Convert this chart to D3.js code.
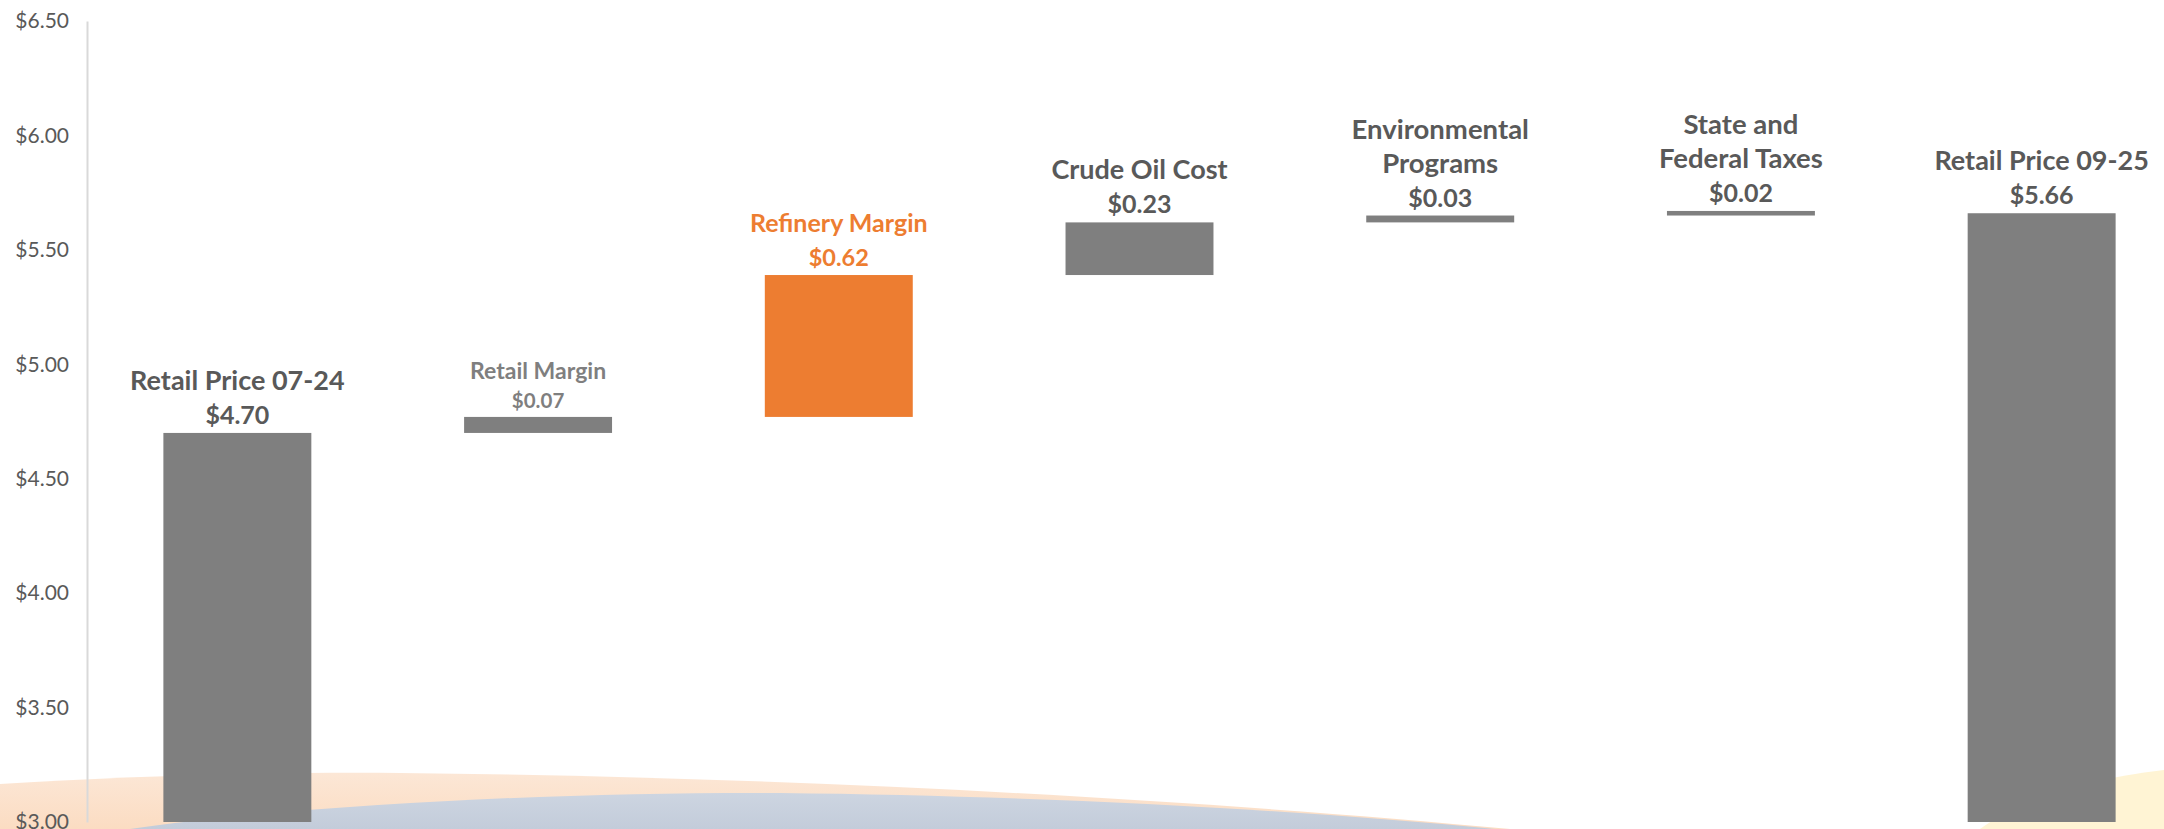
<!DOCTYPE html>
<html>
<head>
<meta charset="utf-8">
<script src="https://cdn.jsdelivr.net/npm/d3@7"></script>
<style>
  html, body { margin: 0; padding: 0; background: #ffffff; }
  svg { display: block; }
  text { font-family: Lato, "Open Sans", sans-serif; }
</style>
</head>
<body>
<svg id="chart" width="2164" height="829"></svg>
<script>
// ---- data ----
const categories = ["Retail Price 07-24", "Retail Margin", "Refinery Margin", "Crude Oil Cost",
                    "Environmental Programs", "State and Federal Taxes", "Retail Price 09-25"];
const labelLines = [["Retail Price 07-24"], ["Retail Margin"], ["Refinery Margin"], ["Crude Oil Cost"],
                    ["Environmental", "Programs"], ["State and", "Federal Taxes"], ["Retail Price 09-25"]];
const values = [4.70, 0.07, 0.62, 0.23, 0.03, 0.02, 5.66];
const barKinds = ["total", "delta", "delta", "delta", "delta", "delta", "total"];
const yTicks = [3.00, 3.50, 4.00, 4.50, 5.00, 5.50, 6.00, 6.50];

// ---- styles ----
const orange = "#ED7D31", darkText = "#595959", lightText = "#7f7f7f";
const barColor = ["#7f7f7f", "#7f7f7f", orange, "#7f7f7f", "#7f7f7f", "#7f7f7f", "#7f7f7f"];
const textColor = [darkText, lightText, orange, darkText, darkText, darkText, darkText];
const labelSize = [27, 23, 25, 27, 27.5, 27.5, 27];
const valueSize = [25, 20.5, 23.5, 25, 25, 25, 25];

const svg = d3.select("#chart");

// background decorations
const defs = svg.append("defs");
const g1 = defs.append("linearGradient").attr("id", "peach").attr("x1", 0).attr("y1", 0).attr("x2", 0).attr("y2", 1);
g1.append("stop").attr("offset", "0%").attr("stop-color", "#fce7d6");
g1.append("stop").attr("offset", "100%").attr("stop-color", "#fbdcc2");
const g2 = defs.append("linearGradient").attr("id", "blue").attr("x1", 0).attr("y1", 0).attr("x2", 0).attr("y2", 1);
g2.append("stop").attr("offset", "0%").attr("stop-color", "#cdd5e1");
g2.append("stop").attr("offset", "100%").attr("stop-color", "#c3ccda");

const bg = svg.append("g").attr("class", "bg");
bg.append("path")
  .attr("d", `M0,784 C150,775 280,772 400,773 C800,777 1200,800 1510,829 L0,829 Z`)
  .attr("fill", "url(#peach)");
bg.append("path")
  .attr("d", `M130,829 C300,805 560,792 780,793 C1050,796 1300,810 1495,829 Z`)
  .attr("fill", "url(#blue)");
bg.append("path")
  .attr("d", `M1980,829 C2020,800 2080,780 2164,770 L2164,829 Z`)
  .attr("fill", "#fff4d4");

// ---- scales ----
const x = d3.scaleBand().domain(categories).range([87, 2192]).paddingInner(0.508).paddingOuter(0.254);
const y = d3.scaleLinear().domain([3, 6.5]).range([822, 21]);

// ---- waterfall computation ----
let running = 0;
const bars = categories.map((c, i) => {
  let y0, y1;
  if (barKinds[i] === "total") { y0 = 3; y1 = values[i]; running = values[i]; }
  else { y0 = running; y1 = running + values[i]; running = y1; }
  return { cat: c, y0, y1, v: values[i], i };
});

// ---- axis ----
const axis = d3.axisLeft(y).tickValues(yTicks).tickFormat(d => "$" + d3.format(".2f")(d))
  .tickSizeInner(0).tickSizeOuter(0).tickPadding(18);
const ag = svg.append("g").attr("transform", "translate(87,0)").call(axis);
ag.select(".domain").attr("stroke", "#d9d9d9").attr("stroke-width", 2);
ag.selectAll("text").attr("fill", darkText).attr("font-size", 21).attr("font-family", "Lato, sans-serif");

// ---- bars ----
svg.append("g").selectAll("rect").data(bars).join("rect")
  .attr("x", d => x(d.cat))
  .attr("width", x.bandwidth())
  .attr("y", d => y(Math.max(d.y0, d.y1)))
  .attr("height", d => Math.abs(y(d.y0) - y(d.y1)))
  .attr("fill", d => barColor[d.i]);

// ---- labels ----
const lg = svg.append("g");
bars.forEach(d => {
  const cx = x(d.cat) + x.bandwidth() / 2;
  const top = y(Math.max(d.y0, d.y1));
  const lines = labelLines[d.i].concat(["$" + d3.format(".2f")(d.v)]);
  const sp = d.i === 1 ? 29 : 34;
  const t = lg.append("text")
    .attr("text-anchor", "middle")
    .attr("font-weight", "bold")
    .attr("fill", textColor[d.i]);
  lines.forEach((ln, k) => {
    const isValue = k === lines.length - 1;
    t.append("tspan")
      .attr("x", cx)
      .attr("y", top - 9 - (lines.length - 1 - k) * sp)
      .attr("font-size", isValue ? valueSize[d.i] : labelSize[d.i])
      .text(ln);
  });
});
</script>
</body>
</html>
